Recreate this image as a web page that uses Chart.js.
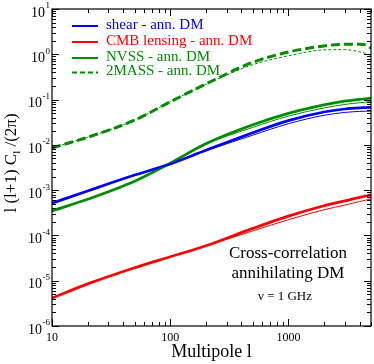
<!DOCTYPE html>
<html>
<head>
<meta charset="utf-8">
<script src="https://cdn.jsdelivr.net/npm/chart.js@4.4.1/dist/chart.umd.min.js"></script>
<style>
  html, body { margin: 0; padding: 0; background: #fff; }
  canvas { display: block; }
</style>
</head>
<body>
<canvas id="clChart" width="374" height="364"></canvas>
<script>
// multipoles and l(l+1)C_l/(2pi)
var ells = [10, 20, 50, 100, 200, 500, 1000, 2000, 3000, 4000, 4500, 5000];

var shearThick = [5.14e-4, 9.59e-4, 2.15e-3, 3.79e-3, 7.59e-3, 0.0186, 0.0343, 0.0531, 0.0619, 0.0656, 0.0664, 0.0671];
var shearThin  = [5.14e-4, 9.59e-4, 2.15e-3, 3.79e-3, 7.36e-3, 0.01637, 0.0293, 0.0449, 0.0520, 0.0548, 0.0553, 0.0557];
var cmbThick   = [4.11e-6, 8.51e-6, 1.94e-5, 3.38e-5, 5.89e-5, 1.43e-4, 2.67e-4, 4.53e-4, 5.78e-4, 6.92e-4, 7.40e-4, 7.91e-4];
var cmbThin    = [4.11e-6, 8.51e-6, 1.94e-5, 3.38e-5, 5.85e-5, 1.26e-4, 2.22e-4, 3.69e-4, 4.68e-4, 5.61e-4, 6.0e-4, 6.41e-4];
var nvssThick  = [3.48e-4, 6.28e-4, 1.57e-3, 3.93e-3, 0.01057, 0.02767, 0.0495, 0.0762, 0.0923, 0.1014, 0.1042, 0.1072];
var nvssThin   = [3.48e-4, 6.28e-4, 1.57e-3, 3.93e-3, 0.01025, 0.02435, 0.0431, 0.0652, 0.0780, 0.0852, 0.0875, 0.0900];
var tmassThick = [8.55e-3, 0.01469, 0.0351, 0.0893, 0.2198, 0.665, 1.12, 1.53, 1.66, 1.66, 1.61, 1.36];
var tmassThin  = [8.55e-3, 0.01469, 0.0351, 0.0893, 0.216, 0.589, 0.927, 1.25, 1.27, 1.135, 1.05, 0.94];

var legendLabels = ["shear - ann. DM", "CMB lensing - ann. DM", "NVSS - ann. DM", "2MASS - ann. DM"];
var yDecades = [-6, -5, -4, -3, -2, -1, 0, 1];
var xTickLabels = [10, 100, 1000];

var BLUE = "#0000ff", RED = "#ff0000", GREEN = "#008c00";
var SERIF = "'Liberation Serif', 'Times New Roman', serif";

function pts(vals) {
  return ells.map(function (l, i) { return { x: l, y: vals[i] }; });
}

function line(vals, color, width, dash) {
  return {
    data: pts(vals),
    borderColor: color,
    borderWidth: width,
    borderDash: dash || [],
    pointRadius: 0,
    fill: false,
    cubicInterpolationMode: "monotone"
  };
}

// frame, inward ticks, labels, legend and notes (xmgrace look)
var decorations = {
  id: "decorations",
  afterDatasetsDraw: function (chart) {
    var c = chart.ctx, a = chart.chartArea;
    var xs = chart.scales.x, ys = chart.scales.y;
    c.save();
    c.strokeStyle = "#000";
    c.lineWidth = 1.2;
    c.strokeRect(a.left, a.top, a.right - a.left, a.bottom - a.top);

    c.lineWidth = 1;
    c.beginPath();
    yDecades.forEach(function (k) {
      for (var m = 1; m <= 9; m++) {
        var v = m * Math.pow(10, k);
        if (v > 10.0001) break;
        var y = Math.round(ys.getPixelForValue(v)) + 0.5;
        var len = m === 1 ? 7 : 4;
        c.moveTo(a.left, y); c.lineTo(a.left + len, y);
        c.moveTo(a.right, y); c.lineTo(a.right - len, y);
      }
    });
    [1, 2, 3].forEach(function (k) {
      for (var m = 1; m <= 9; m++) {
        var v = m * Math.pow(10, k);
        if (v > 5000) break;
        var x = Math.round(xs.getPixelForValue(v)) + 0.5;
        var len = m === 1 ? 7 : 4;
        c.moveTo(x, a.bottom); c.lineTo(x, a.bottom - len);
        c.moveTo(x, a.top); c.lineTo(x, a.top + len);
      }
    });
    c.stroke();

    // x tick labels
    c.fillStyle = "#000";
    c.font = "12px " + SERIF;
    c.textAlign = "center";
    c.textBaseline = "middle";
    xTickLabels.forEach(function (v) {
      c.fillText(String(v), xs.getPixelForValue(v), 338);
    });

    // y tick labels 10^k
    yDecades.forEach(function (k) {
      var y = ys.getPixelForValue(Math.pow(10, k));
      var exp = String(k);
      c.font = "9px " + SERIF;
      var ew = c.measureText(exp).width;
      c.textAlign = "left";
      c.textBaseline = "middle";
      var ex = a.left - 2 - ew;
      c.fillText(exp, ex, y - 3);
      c.font = "14px " + SERIF;
      c.textAlign = "right";
      c.fillText("10", ex - 0.5, y + 4);
    });

    // axis titles
    c.font = "18px " + SERIF;
    c.textAlign = "center";
    c.textBaseline = "middle";
    c.fillText("Multipole l", (a.left + a.right) / 2, 352);

    c.save();
    c.translate(12, 163);
    c.rotate(-Math.PI / 2);
    var p1 = "l (l+1) C", p2 = "l", p3 = " /(2\u03c0)";
    c.font = "17px " + SERIF;
    var w1 = c.measureText(p1).width, w3 = c.measureText(p3).width;
    c.font = "11px " + SERIF;
    var w2 = c.measureText(p2).width;
    var x0 = -(w1 + w2 + w3) / 2;
    c.textAlign = "left";
    c.font = "17px " + SERIF;
    c.fillText(p1, x0, 0);
    c.font = "11px " + SERIF;
    c.fillText(p2, x0 + w1, 5);
    c.font = "17px " + SERIF;
    c.fillText(p3, x0 + w1 + w2, 0);
    c.restore();

    // legend
    var rows = [26, 42, 58, 72.5];
    var cols = [BLUE, RED, GREEN, GREEN];
    legendLabels.forEach(function (lab, i) {
      c.strokeStyle = cols[i];
      c.lineWidth = 2;
      c.setLineDash(i === 3 ? [5, 3] : []);
      c.beginPath();
      c.moveTo(72, rows[i]); c.lineTo(98, rows[i]);
      c.stroke();
      c.setLineDash([]);
      c.fillStyle = cols[i];
      c.font = "15px " + SERIF;
      c.textAlign = "left";
      c.textBaseline = "middle";
      c.fillText(lab, 106, rows[i] - 1);
    });

    // note
    c.fillStyle = "#000";
    c.textAlign = "center";
    c.font = "17px " + SERIF;
    c.fillText("Cross-correlation", 288, 254);
    c.fillText("annihilating DM", 288, 274);
    c.font = "13px " + SERIF;
    c.fillText("\u03bd = 1 GHz", 285, 297);
    c.restore();
  }
};

var ctx = document.getElementById("clChart");

var myChart = new Chart(ctx, {
  type: "line",
  data: {
    datasets: [
      line(tmassThin, GREEN, 1, [3, 2]),
      line(tmassThick, GREEN, 3, [9, 4]),
      line(cmbThin, RED, 1),
      line(cmbThick, RED, 2.7),
      line(shearThin, BLUE, 1),
      line(nvssThin, GREEN, 1),
      line(shearThick, BLUE, 2.7),
      line(nvssThick, GREEN, 2.7)
    ]
  },
  options: {
    responsive: false,
    animation: false,
    layout: { padding: { top: 9, right: 3, left: 0, bottom: 0 } },
    plugins: { legend: { display: false }, tooltip: { enabled: false } },
    scales: {
      x: {
        type: "logarithmic",
        min: 10,
        max: 5000,
        grid: { display: false },
        border: { display: false },
        ticks: { display: false },
        afterFit: function (s) { s.height = 38; }
      },
      y: {
        type: "logarithmic",
        min: 1e-6,
        max: 10,
        grid: { display: false },
        border: { display: false },
        ticks: { display: false },
        afterFit: function (s) { s.width = 52; }
      }
    }
  },
  plugins: [decorations]
});
</script>
</body>
</html>
